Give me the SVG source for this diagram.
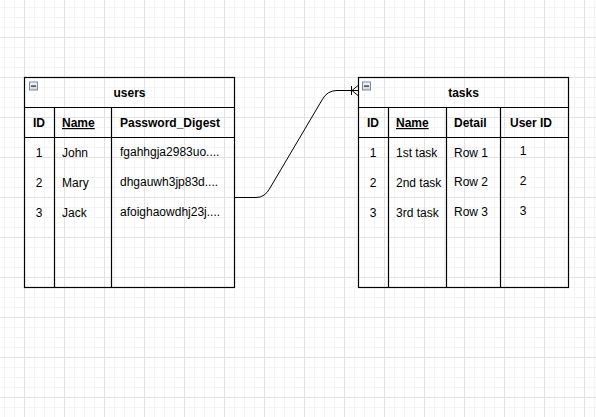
<svg xmlns="http://www.w3.org/2000/svg" width="596" height="417" viewBox="0 0 596 417">
  <defs>
    <!-- background grid: minor lines every 10px, major every 40px -->
    <pattern id="grid" x="24" y="37" width="40" height="40" patternUnits="userSpaceOnUse">
      <rect width="40" height="40" fill="#ffffff"/>
      <g fill="#f3f3f3">
        <rect x="10" y="0" width="1" height="40"/>
        <rect x="20" y="0" width="1" height="40"/>
        <rect x="30" y="0" width="1" height="40"/>
        <rect x="0" y="10" width="40" height="1"/>
        <rect x="0" y="20" width="40" height="1"/>
        <rect x="0" y="30" width="40" height="1"/>
      </g>
      <g fill="#e2e2e2">
        <rect x="0" y="0" width="1" height="40"/>
        <rect x="0" y="0" width="40" height="1"/>
      </g>
    </pattern>
    <linearGradient id="btn" x1="0" y1="0" x2="0" y2="1">
      <stop offset="0" stop-color="#f4f6f9"/>
      <stop offset="1" stop-color="#cfd6e0"/>
    </linearGradient>
    <!-- collapse button shown in each table header -->
    <g id="collapse">
      <rect x="0.5" y="0.5" width="8" height="8" fill="url(#btn)" stroke="#7a8ba3" stroke-width="1"/>
      <rect x="2" y="4" width="5" height="1.2" fill="#222222"/>
    </g>
  </defs>
  <style>
    .frame { fill: none; stroke: #000000; stroke-width: 1.2; }
    .t { font-family: "Liberation Sans", Arial, Helvetica, sans-serif; font-size: 12px; fill: #000000; }
    .h { font-weight: bold; }
    .c { text-anchor: middle; }
    .u { text-decoration: underline; }
    .edge { fill: none; stroke: #000000; stroke-width: 1; }
  </style>

  <rect width="596" height="417" fill="url(#grid)"/>

  <!-- users table -->
  <g id="users">
    <rect class="frame" x="24.5" y="77.5" width="210" height="210"/>
    <line class="frame" x1="24.5" y1="107.5" x2="234.5" y2="107.5"/>
    <line class="frame" x1="24.5" y1="137.5" x2="234.5" y2="137.5"/>
    <line class="frame" x1="54.5" y1="107.5" x2="54.5" y2="287.5"/>
    <line class="frame" x1="111.5" y1="107.5" x2="111.5" y2="287.5"/>
    <use href="#collapse" x="29" y="81.5"/>
    <text class="t h c" x="129.5" y="97">users</text>
    <text class="t h c" x="39" y="127">ID</text>
    <text class="t h u" x="62" y="127">Name</text>
    <text class="t h" x="120" y="127">Password_Digest</text>
    <text class="t c" x="39" y="157">1</text>
    <text class="t" x="62" y="157">John</text>
    <text class="t" x="120" y="156">fgahhgja2983uo....</text>
    <text class="t c" x="39" y="187">2</text>
    <text class="t" x="62" y="187">Mary</text>
    <text class="t" x="120" y="186">dhgauwh3jp83d....</text>
    <text class="t c" x="39" y="217">3</text>
    <text class="t" x="62" y="217">Jack</text>
    <text class="t" x="120" y="216">afoighaowdhj23j....</text>
  </g>

  <!-- tasks table -->
  <g id="tasks">
    <rect class="frame" x="358.5" y="77.5" width="210" height="210"/>
    <line class="frame" x1="358.5" y1="107.5" x2="568.5" y2="107.5"/>
    <line class="frame" x1="358.5" y1="137.5" x2="568.5" y2="137.5"/>
    <line class="frame" x1="388.5" y1="107.5" x2="388.5" y2="287.5"/>
    <line class="frame" x1="446.5" y1="107.5" x2="446.5" y2="287.5"/>
    <line class="frame" x1="500.5" y1="107.5" x2="500.5" y2="287.5"/>
    <use href="#collapse" x="362" y="81.5"/>
    <text class="t h c" x="463.5" y="97">tasks</text>
    <text class="t h c" x="373" y="127">ID</text>
    <text class="t h u" x="396" y="127">Name</text>
    <text class="t h" x="454" y="127">Detail</text>
    <text class="t h" x="510" y="127">User ID</text>
    <text class="t c" x="373" y="157">1</text>
    <text class="t" x="396" y="157">1st task</text>
    <text class="t" x="454" y="157">Row 1</text>
    <text class="t c" x="523" y="155">1</text>
    <text class="t c" x="373" y="187">2</text>
    <text class="t" x="396" y="187">2nd task</text>
    <text class="t" x="454" y="186">Row 2</text>
    <text class="t c" x="523" y="185">2</text>
    <text class="t c" x="373" y="217">3</text>
    <text class="t" x="396" y="217">3rd task</text>
    <text class="t" x="454" y="216">Row 3</text>
    <text class="t c" x="523" y="215">3</text>
  </g>

  <!-- one-to-many relation: users -> tasks -->
  <g id="connectors">
    <path class="edge" d="M234.5,197.5 L256,197.5 Q265,197.5 270,188 L322,100 Q327,90.5 337,90.5 L358,90.5"/>
    <line class="edge" x1="351.5" y1="86" x2="351.5" y2="95"/>
    <line class="edge" x1="352" y1="90.5" x2="358" y2="85.5"/>
    <line class="edge" x1="352" y1="90.5" x2="358" y2="95.5"/>
  </g>
</svg>
